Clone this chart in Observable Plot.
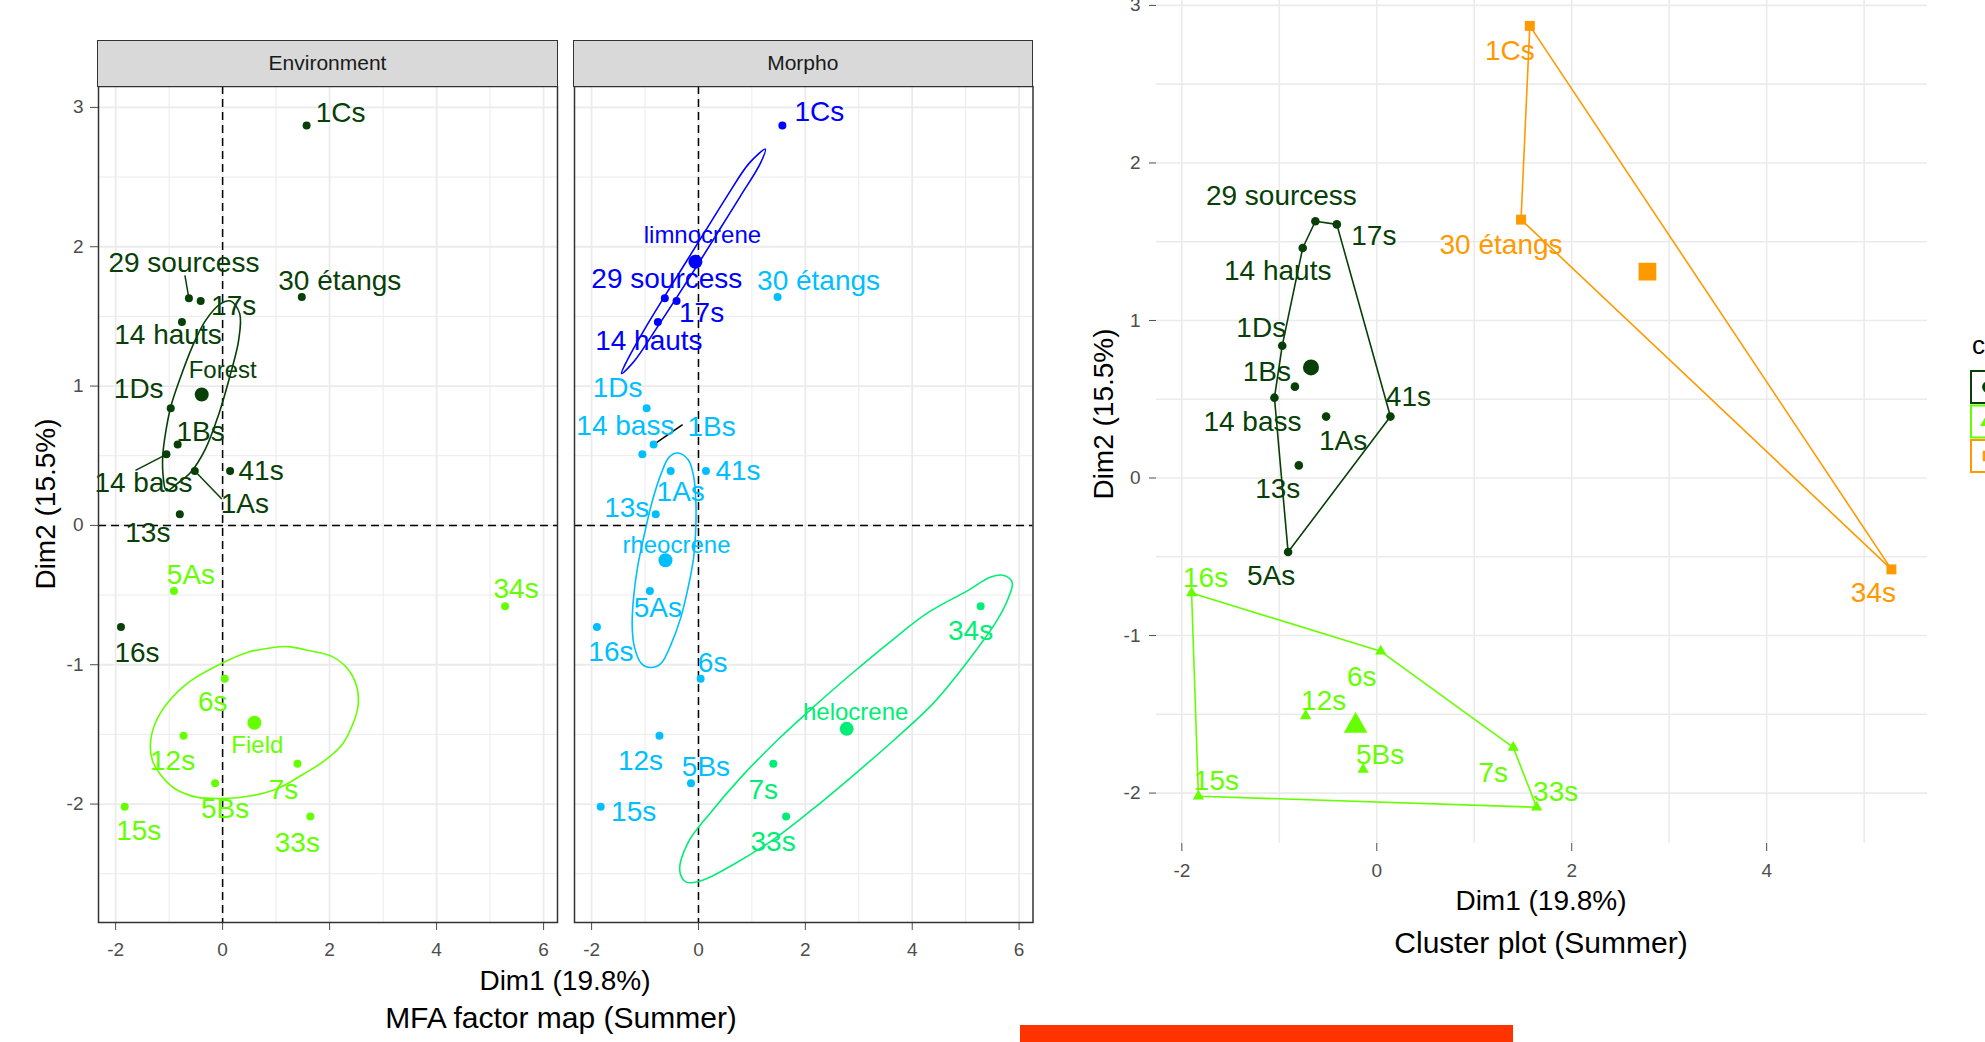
<!DOCTYPE html>
<html><head><meta charset="utf-8">
<script src="https://cdn.jsdelivr.net/npm/d3@7"></script>
<script src="https://cdn.jsdelivr.net/npm/@observablehq/plot@0.6"></script>
<style>
html,body{margin:0;padding:0;background:#fff;overflow:hidden;}
#root{position:relative;width:1985px;height:1042px;overflow:hidden;font-family:"Liberation Sans",Arial,Helvetica,sans-serif;background:#fff;}
.strip{position:absolute;background:#d9d9d9;border:1.5px solid #333;box-sizing:border-box;display:flex;align-items:center;justify-content:center;font-size:21px;color:#1a1a1a;}
.title{position:absolute;white-space:nowrap;transform:translate(-50%,-50%);color:#000;line-height:1;}
.ytitle{position:absolute;white-space:nowrap;transform:translate(-50%,-50%) rotate(-90deg);color:#000;line-height:1;font-size:28px;}
</style></head><body><div id="root"></div>
<script>
// ---------------- DATA ----------------
const sites = ["1Cs","29 sourcess","17s","30 étangs","14 hauts","1Ds","1Bs","14 bass","1As","41s","13s","5As","16s","34s","6s","12s","7s","5Bs","15s","33s"];
const dim1 = [1.57,-0.63,-0.41,1.48,-0.76,-0.97,-0.84,-1.05,-0.52,0.14,-0.80,-0.91,-1.90,5.28,0.04,-0.73,1.40,-0.14,-1.83,1.64];
const dim2 = [2.87,1.63,1.61,1.64,1.46,0.84,0.58,0.51,0.39,0.39,0.08,-0.47,-0.73,-0.58,-1.10,-1.51,-1.71,-1.85,-2.02,-2.09];
const envGroup = ["Forest","Forest","Forest","Forest","Forest","Forest","Forest","Forest","Forest","Forest","Forest","Field","Forest","Field","Field","Field","Field","Field","Field","Field"];
const morphoGroup = ["limnocrene","limnocrene","limnocrene","rheocrene","limnocrene","rheocrene","rheocrene","rheocrene","rheocrene","rheocrene","rheocrene","rheocrene","rheocrene","helocrene","rheocrene","rheocrene","helocrene","rheocrene","rheocrene","helocrene"];
const clusterGroup = ["3","1","1","3","1","1","1","1","1","1","1","1","2","3","2","2","2","2","2","2"];
const envLevels = ["Forest","Field"];
const morphoLevels = ["limnocrene","rheocrene","helocrene"];
const clusterLevels = ["1","2","3"];

// confidence ellipse outlines
const forestEllX = [0.15,0.32,0.30,0.15,-0.07,-0.32,-0.60,-0.85,-1.05,-1.11,-1.12,-1.08,-0.97,-0.79,-0.57,-0.32,-0.04];
const forestEllY = [1.61,1.52,1.33,1.09,0.80,0.55,0.38,0.30,0.25,0.35,0.49,0.63,0.85,1.06,1.28,1.47,1.59];
const fieldEllX = [1.22,1.63,2.04,2.34,2.51,2.53,2.44,2.24,1.90,1.49,1.02,0.54,0.00,-0.48,-0.89,-1.16,-1.31,-1.35,-1.26,-1.02,-0.61,-0.07,0.47,0.88];
const fieldEllY = [-0.87,-0.90,-0.94,-1.03,-1.16,-1.30,-1.42,-1.57,-1.69,-1.79,-1.89,-1.94,-1.96,-1.95,-1.89,-1.79,-1.69,-1.57,-1.42,-1.27,-1.12,-1.00,-0.91,-0.88];
const limnoEllX = [1.25,1.16,0.78,0.39,0.00,-0.40,-0.81,-1.20,-1.44,-1.34,-1.02,-0.64,-0.25,0.14,0.53,0.95];
const limnoEllY = [2.70,2.60,2.36,2.12,1.88,1.64,1.40,1.18,1.09,1.18,1.40,1.64,1.88,2.12,2.36,2.60];
const rheoEllX = [-0.39,-0.19,-0.09,-0.05,-0.05,-0.09,-0.19,-0.33,-0.51,-0.70,-0.89,-1.07,-1.20,-1.24,-1.22,-1.14,-1.01,-0.86,-0.70,-0.55];
const rheoEllY = [0.52,0.47,0.35,0.18,-0.01,-0.23,-0.44,-0.66,-0.85,-0.99,-1.02,-0.99,-0.87,-0.73,-0.54,-0.30,-0.06,0.18,0.37,0.49];
const heloEllX = [5.87,5.72,5.47,5.03,4.28,3.54,2.85,2.16,1.48,0.79,0.23,-0.20,-0.35,-0.23,0.05,0.67,1.42,2.16,2.91,3.66,4.41,5.09,5.59,5.81];
const heloEllY = [-0.41,-0.36,-0.37,-0.47,-0.63,-0.85,-1.07,-1.30,-1.54,-1.81,-2.06,-2.28,-2.48,-2.56,-2.55,-2.43,-2.25,-2.03,-1.79,-1.54,-1.27,-0.95,-0.68,-0.51];

// tick values
const mfaXTicks = [-2,0,2,4,6];
const mfaXMinor = [-1,1,3,5];
const mfaYTicks = [-2,-1,0,1,2,3];
const mfaYMinor = [-2.5,-1.5,-0.5,0.5,1.5,2.5];
const cluXTicks = [-2,0,2,4];
const cluXGrid = [-2,-1,0,1,2,3,4,5];
const cluYTicks = [-2,-1,0,1,2,3];
const cluYGrid = [-2,-1.5,-1,-0.5,0,0.5,1,1.5,2,2.5,3];

// ---------------- LAYOUT / STYLE (not data) ----------------
const FONT = '"Liberation Sans", Arial, Helvetica, sans-serif';
const COL = {forest:"#073f07", field:"#66ff00", limno:"#0000ff", rheo:"#00bfff", helo:"#00ee76", orange:"#ff9900"};
const L = {top:86, bottom:922, stripTop:40, xDomain:[-2.32,6.26], yDomain:[-2.85,3.15]};
const CL = {left:1156, right:1927, top:-14, bottom:843, xDomain:[-2.26,5.65], yDomain:[-2.32,3.12], svgLeft:1050};

// label offsets in pixels (ggrepel placement)
const envLabelOffset = {"1Cs":[34,-12],"29 sourcess":[-5,-35],"17s":[33,5],"30 étangs":[38,-16],"14 hauts":[-14,13],"1Ds":[-32,-19],"1Bs":[23,-13],"14 bass":[-23,29],"1As":[50,33],"41s":[31,0],"13s":[-32,19],"5As":[17,-16],"16s":[16,26],"34s":[11,-17],"6s":[-12,23],"12s":[-11,25],"7s":[-14,26],"5Bs":[10,26],"15s":[14,24],"33s":[-13,26]};
const morLabelOffset = {"1Cs":[37,-13],"29 sourcess":[2,-19],"17s":[25,12],"30 étangs":[41,-16],"14 hauts":[-9,19],"1Ds":[-29,-20],"1Bs":[58,-18],"14 bass":[-17,-28],"1As":[10,21],"41s":[32,0],"13s":[-29,-6],"5As":[8,17],"16s":[14,25],"34s":[-10,25],"6s":[12,-16],"12s":[-19,25],"7s":[-10,26],"5Bs":[15,-16],"15s":[33,5],"33s":[-13,25]};
const cluLabelOffset = {"29 sourcess":[-34,-25],"17s":[37,12],"14 hauts":[-25,23],"1Ds":[-21,-18],"1Bs":[-28,-15],"14 bass":[-22,24],"1As":[17,24],"41s":[18,-20],"13s":[-21,24],"5As":[-17,24],"1Cs":[-20,25],"30 étangs":[-20,25],"34s":[-18,24],"16s":[14,-15],"6s":[-19,26],"12s":[18,-15],"5Bs":[17,-14],"7s":[-20,26],"33s":[19,-15],"15s":[18,-15]};
const envCentroidOffset = {"Forest":[21,-24],"Field":[3,23]};
const morCentroidOffset = {"limnocrene":[7,-26],"rheocrene":[11,-15],"helocrene":[9,-17]};
const envSegments = [["29 sourcess",-4,-23,null],["14 bass",-31,16,null],["1As",27,28,null]];
const morSegments = [["1Bs",29,-20,"#000"]];

// ---------------- BUILD ----------------
const root = document.getElementById("root");
const pts = sites.map((s,i)=>({site:s, x:dim1[i], y:dim2[i], env:envGroup[i], morpho:morphoGroup[i], cluster:clusterGroup[i]}));
function centroids(key, levels){
  return levels.map(g=>{const s=pts.filter(p=>p[key]===g); return {g, x:d3.mean(s,p=>p.x), y:d3.mean(s,p=>p.y)};});
}
function ellRows(list){
  const rows=[]; list.forEach(([g,xs,ys])=>xs.forEach((x,i)=>rows.push({g,x,y:ys[i]}))); return rows;
}
const fmt = d=>String(d);

function mfaPanel(o){
  const showY = o.showY;
  const ml = showY ? o.left : 2;
  const svgLeft = showY ? 0 : o.left - 2;
  const width = (o.right - o.left) + ml + 2;
  const height = L.bottom + 60;
  const ux = (o.right-o.left)/(L.xDomain[1]-L.xDomain[0]);
  const uy = (L.bottom-L.top)/(L.yDomain[1]-L.yDomain[0]);
  const data = pts.map(p=>({...p, g:p[o.key]}));
  const cents = centroids(o.key, o.levels);
  const labels = data.map(p=>{const off=o.labelOffset[p.site]; return {x:p.x+off[0]/ux, y:p.y-off[1]/uy, text:p.site, g:p.g};});
  const clabels = cents.map(c=>{const off=o.centroidOffset[c.g]; return {x:c.x+off[0]/ux, y:c.y-off[1]/uy, text:c.g, g:c.g};});
  const segs = o.segments.map(([s,dx,dy,col])=>{const p=data.find(d=>d.site===s); return {x1:p.x,y1:p.y,x2:p.x+dx/ux,y2:p.y-dy/uy,g:p.g,col};});
  const segG = segs.filter(s=>!s.col), segC = segs.filter(s=>s.col);
  const svg = Plot.plot({
    width, height, marginLeft:ml, marginRight:2, marginTop:L.top, marginBottom:height-L.bottom,
    style:{fontFamily:FONT, fontSize:"19px", color:"#4d4d4d", background:"transparent", overflow:"visible"},
    x:{domain:L.xDomain, ticks:mfaXTicks, tickSize:8, tickPadding:12, tickFormat:fmt, label:null},
    y:{domain:L.yDomain, ticks:mfaYTicks, tickSize:8, tickPadding:7, tickFormat:fmt, label:null, axis: showY ? "left" : null},
    color:{domain:o.levels, range:o.colors},
    marks:[
      Plot.ruleX(mfaXMinor,{stroke:"#ebebeb", strokeWidth:1}),
      Plot.ruleY(mfaYMinor,{stroke:"#ebebeb", strokeWidth:1}),
      Plot.ruleX(mfaXTicks,{stroke:"#ebebeb", strokeWidth:1.8}),
      Plot.ruleY(mfaYTicks,{stroke:"#ebebeb", strokeWidth:1.8}),
      Plot.ruleX([0],{stroke:"#000", strokeWidth:1.5, strokeDasharray:"8,5"}),
      Plot.ruleY([0],{stroke:"#000", strokeWidth:1.5, strokeDasharray:"8,5"}),
      Plot.line(ellRows(o.ellipses),{x:"x", y:"y", z:"g", stroke:"g", strokeWidth:1.6, curve:"catmull-rom-closed"}),
      Plot.link(segG,{x1:"x1",y1:"y1",x2:"x2",y2:"y2",stroke:"g",strokeWidth:1.5}),
      Plot.link(segC,{x1:"x1",y1:"y1",x2:"x2",y2:"y2",stroke:"col",strokeWidth:1.5}),
      Plot.dot(data,{x:"x", y:"y", fill:"g", r:4}),
      Plot.dot(cents,{x:"x", y:"y", fill:"g", r:7}),
      Plot.text(labels,{x:"x", y:"y", text:"text", fill:"g", fontSize:28}),
      Plot.text(clabels,{x:"x", y:"y", text:"text", fill:"g", fontSize:24}),
      Plot.frame({stroke:"#333", strokeWidth:1.5})
    ]
  });
  svg.style.position="absolute"; svg.style.left=svgLeft+"px"; svg.style.top="0px";
  root.appendChild(svg);
  const strip=document.createElement("div"); strip.className="strip";
  Object.assign(strip.style,{left:(o.left-0.75)+"px", top:L.stripTop+"px", width:(o.right-o.left+1.5)+"px", height:(L.top-L.stripTop+0.75)+"px"});
  strip.textContent=o.strip; root.appendChild(strip);
}

mfaPanel({left:98, right:557, key:"env", levels:envLevels, colors:[COL.forest, COL.field], showY:true, strip:"Environment",
  ellipses:[["Forest",forestEllX,forestEllY],["Field",fieldEllX,fieldEllY]],
  labelOffset:envLabelOffset, centroidOffset:envCentroidOffset, segments:envSegments});
mfaPanel({left:573.5, right:1032, key:"morpho", levels:morphoLevels, colors:[COL.limno, COL.rheo, COL.helo], showY:false, strip:"Morpho",
  ellipses:[["limnocrene",limnoEllX,limnoEllY],["rheocrene",rheoEllX,rheoEllY],["helocrene",heloEllX,heloEllY]],
  labelOffset:morLabelOffset, centroidOffset:morCentroidOffset, segments:morSegments});

// ---------- cluster plot ----------
(function(){
  const ml = CL.left - CL.svgLeft;
  const width = CL.right - CL.svgLeft + 2;
  const ph = CL.bottom - CL.top;
  const height = ph + 60;
  const ux = (CL.right-CL.left)/(CL.xDomain[1]-CL.xDomain[0]);
  const uy = ph/(CL.yDomain[1]-CL.yDomain[0]);
  const data = pts.map(p=>({...p, g:p.cluster}));
  const cents = centroids("cluster", clusterLevels);
  const hulls = [];
  clusterLevels.forEach(g=>{
    const h = d3.polygonHull(data.filter(d=>d.g===g).map(d=>[d.x,d.y]));
    h.forEach(([x,y])=>hulls.push({g,x,y}));
  });
  const labels = data.map(p=>{const off=cluLabelOffset[p.site]; return {x:p.x+off[0]/ux, y:p.y-off[1]/uy, text:p.site, g:p.g};});
  const sym = {"1":["circle",4.3,8],"2":["triangle",4.2,8.8],"3":["square",5.6,10]};
  const dotMarks = [];
  clusterLevels.forEach(g=>{
    dotMarks.push(Plot.dot(data.filter(d=>d.g===g),{x:"x",y:"y",fill:"g",symbol:sym[g][0],r:sym[g][1]}));
    dotMarks.push(Plot.dot(cents.filter(d=>d.g===g),{x:"x",y:"y",fill:"g",symbol:sym[g][0],r:sym[g][2]}));
  });
  const svg = Plot.plot({
    width, height, marginLeft:ml, marginRight:2, marginTop:0, marginBottom:height-ph,
    style:{fontFamily:FONT, fontSize:"19px", color:"#4d4d4d", background:"transparent", overflow:"visible"},
    x:{domain:CL.xDomain, ticks:cluXTicks, tickSize:8, tickPadding:12, tickFormat:fmt, label:null},
    y:{domain:CL.yDomain, ticks:cluYTicks, tickSize:7, tickPadding:9, tickFormat:fmt, label:null},
    color:{domain:clusterLevels, range:[COL.forest, COL.field, COL.orange]},
    marks:[
      Plot.ruleX(cluXGrid,{stroke:"#ebebeb", strokeWidth:1.6}),
      Plot.ruleY(cluYGrid,{stroke:"#ebebeb", strokeWidth:1.6}),
      Plot.line(hulls,{x:"x",y:"y",z:"g",stroke:"g",strokeWidth:1.6,curve:"linear-closed"}),
      ...dotMarks,
      Plot.text(labels,{x:"x",y:"y",text:"text",fill:"g",fontSize:28})
    ]
  });
  svg.style.position="absolute"; svg.style.left=CL.svgLeft+"px"; svg.style.top=CL.top+"px";
  root.appendChild(svg);
})();

// ---------- titles ----------
function title(text,x,y,size,cls){const d=document.createElement("div");d.className=cls||"title";d.textContent=text;d.style.left=x+"px";d.style.top=y+"px";d.style.fontSize=size+"px";root.appendChild(d);}
title("Dim2 (15.5%)",46,504,28,"ytitle");
title("Dim1 (19.8%)",565,981,28);
title("MFA factor map (Summer)",561,1018,30);
title("Dim2 (15.5%)",1104,414,28,"ytitle");
title("Dim1 (19.8%)",1541,901,28);
title("Cluster plot (Summer)",1541,943,30);

// ---------- cluster legend (cropped at right edge, as in the reference) ----------
(function(){
  const ns="http://www.w3.org/2000/svg";
  const s=document.createElementNS(ns,"svg");
  s.setAttribute("width",60); s.setAttribute("height",200);
  Object.assign(s.style,{position:"absolute",left:"1960px",top:"320px",overflow:"visible"});
  const t=document.createElementNS(ns,"text"); t.setAttribute("x",12); t.setAttribute("y",34);
  t.setAttribute("font-size",26); t.setAttribute("font-family",FONT); t.textContent="cluster"; s.appendChild(t);
  const cols=[COL.forest,COL.field,COL.orange], shapes=[d3.symbolCircle,d3.symbolTriangle,d3.symbolSquare];
  cols.forEach((c,i)=>{
    const r=document.createElementNS(ns,"rect");
    r.setAttribute("x",11); r.setAttribute("y",51+i*34.5); r.setAttribute("width",34); r.setAttribute("height",32);
    r.setAttribute("fill","#fff"); r.setAttribute("stroke",c); r.setAttribute("stroke-width",2); s.appendChild(r);
    const p=document.createElementNS(ns,"path");
    p.setAttribute("d",d3.symbol(shapes[i],110)()); p.setAttribute("transform",`translate(28,${67+i*34.5})`);
    p.setAttribute("fill",c); s.appendChild(p);
  });
  root.appendChild(s);
})();

// red bar at the bottom of the picture
const bar=document.createElement("div");
Object.assign(bar.style,{position:"absolute",left:"1020px",top:"1025px",width:"493px",height:"17px",background:"#ff3300"});
root.appendChild(bar);
</script></body></html>
